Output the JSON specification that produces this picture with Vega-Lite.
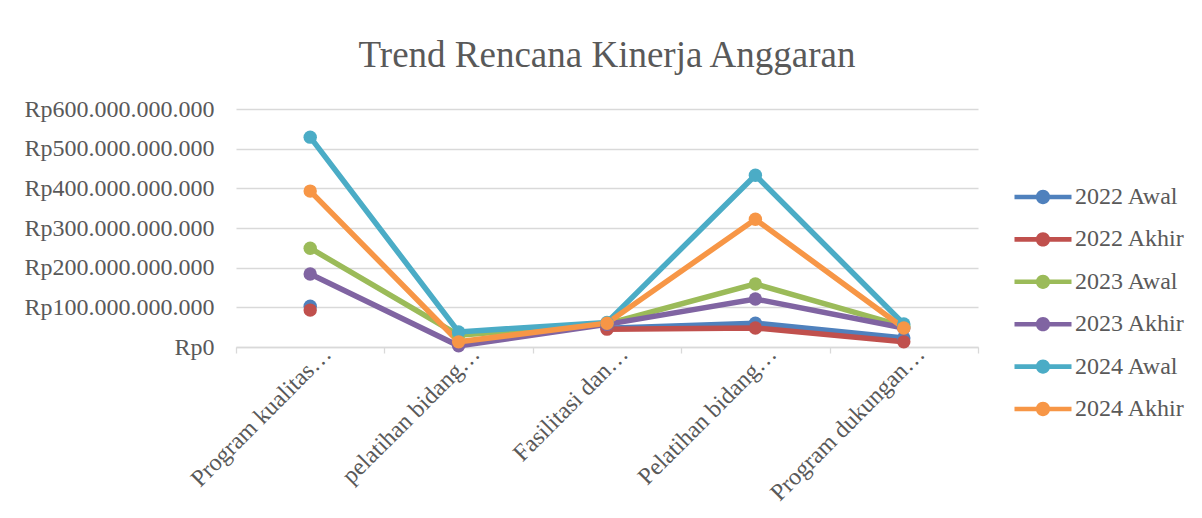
{
  "$schema": "https://vega.github.io/schema/vega-lite/v6.json",
  "width": 742,
  "height": 238,
  "padding": {"left": 23, "top": 37, "right": 5, "bottom": 5},
  "background": "white",
  "config": {
    "locale": {"number": {"decimal": ",", "thousands": ".", "grouping": [3], "currency": ["Rp", ""]}},
    "view": {"stroke": null},
    "font": "Liberation Serif"
  },
  "title": {"text": "Trend Rencana Kinerja Anggaran", "fontSize": 37, "font": "Liberation Serif", "fontWeight": "normal", "color": "#595959", "offset": 22},
  "data": {"values": [
    {"program": "Program kualitas…", "seri": "2022 Awal", "nilai": 103000000000},
    {"program": "pelatihan bidang…", "seri": "2022 Awal", "nilai": null},
    {"program": "Fasilitasi dan…", "seri": "2022 Awal", "nilai": 47000000000},
    {"program": "Pelatihan bidang…", "seri": "2022 Awal", "nilai": 60000000000},
    {"program": "Program dukungan…", "seri": "2022 Awal", "nilai": 23000000000},
    {"program": "Program kualitas…", "seri": "2022 Akhir", "nilai": 93000000000},
    {"program": "pelatihan bidang…", "seri": "2022 Akhir", "nilai": null},
    {"program": "Fasilitasi dan…", "seri": "2022 Akhir", "nilai": 45000000000},
    {"program": "Pelatihan bidang…", "seri": "2022 Akhir", "nilai": 48000000000},
    {"program": "Program dukungan…", "seri": "2022 Akhir", "nilai": 13000000000},
    {"program": "Program kualitas…", "seri": "2023 Awal", "nilai": 249000000000},
    {"program": "pelatihan bidang…", "seri": "2023 Awal", "nilai": 30000000000},
    {"program": "Fasilitasi dan…", "seri": "2023 Awal", "nilai": 58000000000},
    {"program": "Pelatihan bidang…", "seri": "2023 Awal", "nilai": 159000000000},
    {"program": "Program dukungan…", "seri": "2023 Awal", "nilai": 52000000000},
    {"program": "Program kualitas…", "seri": "2023 Akhir", "nilai": 184000000000},
    {"program": "pelatihan bidang…", "seri": "2023 Akhir", "nilai": 3000000000},
    {"program": "Fasilitasi dan…", "seri": "2023 Akhir", "nilai": 57000000000},
    {"program": "Pelatihan bidang…", "seri": "2023 Akhir", "nilai": 121000000000},
    {"program": "Program dukungan…", "seri": "2023 Akhir", "nilai": 48000000000},
    {"program": "Program kualitas…", "seri": "2024 Awal", "nilai": 529000000000},
    {"program": "pelatihan bidang…", "seri": "2024 Awal", "nilai": 38000000000},
    {"program": "Fasilitasi dan…", "seri": "2024 Awal", "nilai": 62000000000},
    {"program": "Pelatihan bidang…", "seri": "2024 Awal", "nilai": 433000000000},
    {"program": "Program dukungan…", "seri": "2024 Awal", "nilai": 58000000000},
    {"program": "Program kualitas…", "seri": "2024 Akhir", "nilai": 393000000000},
    {"program": "pelatihan bidang…", "seri": "2024 Akhir", "nilai": 13000000000},
    {"program": "Fasilitasi dan…", "seri": "2024 Akhir", "nilai": 60000000000},
    {"program": "Pelatihan bidang…", "seri": "2024 Akhir", "nilai": 322000000000},
    {"program": "Program dukungan…", "seri": "2024 Akhir", "nilai": 48000000000}
  ]},
  "encoding": {
    "x": {
      "field": "program", "type": "nominal", "sort": null,
      "scale": {"type": "band", "paddingInner": 0, "paddingOuter": 0},
      "axis": {"title": null, "labelAngle": -45, "labelAlign": "right", "labelBaseline": "alphabetic", "labelFontSize": 24, "labelFont": "Liberation Serif", "labelColor": "#595959", "labelLimit": 400, "labelPadding": 2, "labelOffset": 22, "domainColor": "#D9D9D9", "domainWidth": 1.3, "tickColor": "#D9D9D9", "tickWidth": 1.3, "tickSize": 6, "tickBand": "extent", "grid": false}
    },
    "y": {
      "field": "nilai", "type": "quantitative",
      "scale": {"domain": [0, 600000000000], "nice": false},
      "axis": {"title": null, "values": [0, 100000000000, 200000000000, 300000000000, 400000000000, 500000000000, 600000000000], "format": "$,.0f", "labelFontSize": 24, "labelFont": "Liberation Serif", "labelColor": "#595959", "labelLimit": 400, "labelPadding": 22, "domain": false, "ticks": false, "gridColor": "#D9D9D9", "gridWidth": 1.3}
    },
    "color": {
      "field": "seri", "type": "nominal", "sort": null,
      "scale": {"domain": ["2022 Awal", "2022 Akhir", "2023 Awal", "2023 Akhir", "2024 Awal", "2024 Akhir"], "range": ["#4F81BD", "#C0504D", "#9BBB59", "#8064A2", "#4BACC6", "#F79646"]},
      "legend": {"title": null, "orient": "none", "legendX": 778, "legendY": 59, "labelFontSize": 24, "labelFont": "Liberation Serif", "labelColor": "#595959", "labelLimit": 400, "symbolType": "M-1,-0.08H1V0.08H-1Z M-0.25,0A0.25,0.25 0 1,1 0.25,0A0.25,0.25 0 1,1 -0.25,0Z", "symbolSize": 3250, "symbolStrokeWidth": 0, "symbolOpacity": 1, "labelOffset": 3, "rowPadding": 1.4,
        "encode": {"symbols": {"update": {"fill": {"scale": "color", "field": "value"}, "strokeWidth": {"value": 0}}}}}
    }
  },
  "layer": [
    {"mark": {"type": "line", "strokeWidth": 5.5, "strokeCap": "round", "invalid": "break-paths-filter-domains"}},
    {"mark": {"type": "point", "filled": true, "size": 180, "opacity": 1}}
  ]
}
